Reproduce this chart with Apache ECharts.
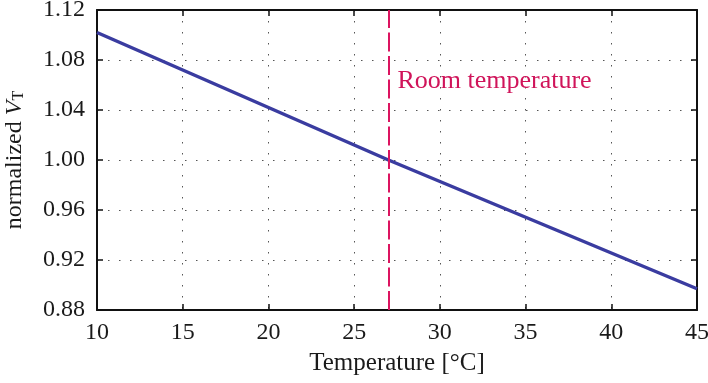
<!DOCTYPE html>
<html>
<head>
<meta charset="utf-8">
<script src="https://cdn.jsdelivr.net/npm/echarts@6/dist/echarts.min.js"></script>
<style>
  html, body { margin: 0; padding: 0; background: #fff; }
  #chart { width: 708px; height: 383px; }
</style>
</head>
<body>
<div id="chart"></div>
<script>
// temperature in degC and normalized threshold voltage
const temps = [10, 27, 45]
const vtNorm = [1.102, 1.000, 0.897]
const roomTemp = 27
const xTicks = [10, 15, 20, 25, 30, 35, 40, 45]
const yTicks = [0.88, 0.92, 0.96, 1.00, 1.04, 1.08, 1.12]

const font = 'Liberation Serif, Times New Roman, serif'
const gridLine = { show: true, lineStyle: { color: '#555', type: [1.5, 9.5], width: 1 } }

const chart = echarts.init(document.getElementById('chart'))

const baseX = {
  type: 'value', min: xTicks[0], max: xTicks[xTicks.length - 1], interval: 5,
  axisLine: { show: true, onZero: false, lineStyle: { color: '#111', width: 2 } },
  axisTick: { inside: true, length: 6, lineStyle: { color: '#111', width: 1.5 } }
}
const baseY = {
  type: 'value', min: yTicks[0], max: yTicks[yTicks.length - 1], interval: 0.04,
  axisLine: { show: true, onZero: false, lineStyle: { color: '#111', width: 2 } },
  axisTick: { inside: true, length: 6, lineStyle: { color: '#111', width: 1.5 } }
}

chart.setOption({
  animation: false,
  textStyle: { fontFamily: font },
  grid: { left: 97, right: 11, top: 10, bottom: 73, outerBoundsMode: 'none', containLabel: false },
  xAxis: [
    Object.assign({}, baseX, {
      position: 'bottom',
      name: 'Temperature [°C]',
      nameLocation: 'middle',
      nameGap: 41,
      nameTextStyle: { fontFamily: font, fontSize: 25, color: '#1a1a1a' },
      axisLabel: { fontFamily: font, fontSize: 24, color: '#1a1a1a', margin: 11 },
      splitLine: gridLine
    }),
    Object.assign({}, baseX, {
      position: 'top',
      axisLabel: { show: false },
      splitLine: { show: false }
    })
  ],
  yAxis: [
    Object.assign({}, baseY, {
      position: 'left',
      name: 'normalized {i|V}{s|T}',
      nameLocation: 'middle',
      nameGap: 70,
      nameRotate: 90,
      nameTextStyle: {
        fontFamily: font, fontSize: 24, color: '#1a1a1a',
        rich: {
          i: { fontFamily: font, fontSize: 24, fontStyle: 'italic', color: '#1a1a1a' },
          s: { fontFamily: font, fontSize: 16, color: '#1a1a1a', verticalAlign: 'bottom', padding: [9, 0, 0, 0] }
        }
      },
      axisLabel: {
        fontFamily: font, fontSize: 24, color: '#1a1a1a', margin: 12,
        formatter: v => v.toFixed(2)
      },
      splitLine: gridLine
    }),
    Object.assign({}, baseY, {
      position: 'right',
      axisLabel: { show: false },
      splitLine: { show: false }
    })
  ],
  series: [
    {
      type: 'line',
      data: temps.map((t, i) => [t, vtNorm[i]]),
      showSymbol: false,
      lineStyle: { color: '#3a3ca0', width: 3.5 },
      markLine: {
        silent: true,
        symbol: 'none',
        lineStyle: { color: '#dc1460', width: 2, type: [19, 4.5] },
        label: { show: false },
        data: [{ xAxis: roomTemp }]
      }
    }
  ]
})

// annotation text next to the room-temperature line
const p = chart.convertToPixel({ xAxisIndex: 0, yAxisIndex: 0 }, [roomTemp, 1.08])
chart.setOption({
  graphic: [{
    type: 'text',
    left: p[0] + 9,
    top: p[1] + 8,
    style: {
      text: 'Room temperature',
      font: '26px ' + font,
      fill: '#d0145a'
    }
  }]
})
</script>
</body>
</html>
